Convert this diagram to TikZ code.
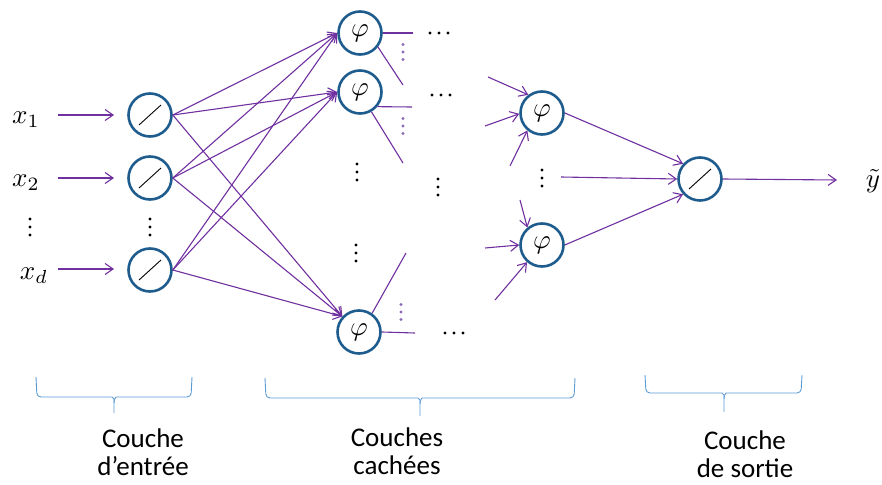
\documentclass[tikz,border=0pt]{standalone}
\usepackage{fontspec}
\setmainfont{Carlito}
\usetikzlibrary{arrows.meta}
\definecolor{nodeblue}{HTML}{1F5C8E}
\definecolor{arrpurple}{HTML}{7030A0}
\definecolor{dotpurple}{HTML}{8B67B8}
\definecolor{braceblue}{HTML}{5B9BD5}
\newcommand{\bigmath}[1]{\scalebox{2.7}{$#1$}}
\begin{document}
\begin{tikzpicture}[x=1pt,y=-1pt,
  neuron/.style={circle,draw=nodeblue,line width=2.6pt,minimum size=43pt,inner sep=0pt},
  linnode/.style={path picture={\draw[black,line width=0.9pt] (path picture bounding box.center) ++(-11pt,-10pt) -- ++(22pt,20pt);}},
  arr/.style={draw=arrpurple,line width=1.1pt,-{Straight Barb[length=8pt,width=11pt]}},
  stub/.style={draw=arrpurple,line width=1.1pt},
  lbl/.style={font=\fontsize{27}{28}\selectfont,align=center,inner sep=0pt},
  mth/.style={inner sep=0pt},
  brace/.style={draw=braceblue,line width=0.9pt,rounded corners=4pt}]
\useasboundingbox (0,0) rectangle (882,484);

% input layer
\node[neuron,linnode] (i1) at (150,115) {};
\node[neuron,linnode] (i2) at (150,178) {};
\node[neuron,linnode] (i3) at (150,270) {};
% hidden layer 1
\node[neuron] (h1) at (360,33) {\bigmath{\varphi}};
\node[neuron] (h2) at (360,92) {\bigmath{\varphi}};
\node[neuron] (h3) at (359,332) {\bigmath{\varphi}};
% hidden layer 2
\node[neuron] (g1) at (542,113) {\bigmath{\varphi}};
\node[neuron] (g2) at (542,245) {\bigmath{\varphi}};
% output
\node[neuron,linnode] (o) at (700,179) {};

% input labels
\node[mth] (x1) at (26,120) {\bigmath{x_1}};
\node[mth] (x2) at (26,183) {\bigmath{x_2}};
\node[mth] (xd) at (34,276) {\bigmath{x_d}};
\node[mth] (yt) at (873,181) {\bigmath{\tilde{y}}};

% input arrows
\coordinate (a1) at (58,115);
\coordinate (a2) at (58,178);
\coordinate (a3) at (58,269);
\coordinate (b1) at (114,115);
\coordinate (b2) at (114,178);
\coordinate (b3) at (114,269);
\draw[arr] (a1) -- (b1);
\draw[arr] (a2) -- (b2);
\draw[arr] (a3) -- (b3);

% input -> hidden 1
\foreach \s in {i1,i2,i3}{
  \draw[arr] (\s.east) -- (h1.west);
  \draw[arr] (\s.east) -- (h2.west);
  \draw[arr] (\s.east) -- (h3.137);
}

% hidden 1 stubs
\coordinate (s1a) at (413,33);
\coordinate (s1b) at (403,85);
\coordinate (s2a) at (412,107);
\coordinate (s2b) at (403,163);
\coordinate (s3a) at (415,333);
\coordinate (s3b) at (406,253);
\draw[stub] (h1.east) -- (s1a);
\draw[stub] (h1.-38) -- (s1b);
\draw[stub] (h2.-40) -- (s2a);
\draw[stub] (h2.-60) -- (s2b);
\draw[stub] (h3.east) -- (s3a);
\draw[stub] (h3.55) -- (s3b);

% hidden 2 incoming
\coordinate (t1) at (488,77);
\coordinate (t2) at (485,126);
\coordinate (t3) at (510,166);
\coordinate (t4) at (520,200);
\coordinate (t5) at (485,248);
\coordinate (t6) at (495,300);
\draw[arr] (t1) -- (g1.127);
\draw[arr] (t2) -- (g1.182);
\draw[arr] (t3) -- (g1.230);
\draw[arr] (t4) -- (g2.130);
\draw[arr] (t5) -- (g2.180);
\draw[arr] (t6) -- (g2.229);

% hidden 2 -> output
\coordinate (m) at (561,177);
\draw[arr] (g1.east) -- (o.138);
\draw[arr] (m) -- (o.west);
\draw[arr] (g2.east) -- (o.222);
\coordinate (oe) at (837,180);
\draw[arr] (o.east) -- (oe);

% vertical dots (black)
\foreach \x/\y in {30/227,150/227,357/172,356/253,438/187,542/178}
  \foreach \d in {-8,0,8}
    \fill[black] (\x,\y+\d) circle (1.7pt);
% horizontal dots
\foreach \x/\y in {439/33,441/95,454/333}
  \foreach \d in {-9,0,9}
    \fill[black] (\x+\d,\y) circle (1.7pt);
% purple dots
\foreach \x/\y in {403/52,403/126,401/312}
  \foreach \d in {-7.5,0,7.5}
    \fill[dotpurple] (\x,\y+\d) circle (1.7pt);

% braces
\draw[brace] (36,377) -- (37,397) -- (108,397) .. controls (112,397) and (114,399) .. (114,403) -- (114,413);
\draw[brace] (192,377) -- (191,397) -- (120,397) .. controls (116,397) and (114,399) .. (114,403);
\draw[brace] (265,378) -- (266,398) -- (414,398) .. controls (418,398) and (420,400) .. (420,404) -- (420,416);
\draw[brace] (575,378) -- (574,398) -- (426,398) .. controls (422,398) and (420,400) .. (420,404);
\draw[brace] (645,375) -- (646,393) -- (718,393) .. controls (722,393) and (724,395) .. (724,399) -- (724,412);
\draw[brace] (802,375) -- (801,393) -- (730,393) .. controls (726,393) and (724,395) .. (724,399);

% layer labels
\node[lbl] (l1) at (143,452) {Couche\\d’entrée};
\node[lbl] (l2) at (397,451) {Couches\\cachées};
\node[lbl] (l3) at (745,454) {Couche\\de sortie};
\end{tikzpicture}
\end{document}
